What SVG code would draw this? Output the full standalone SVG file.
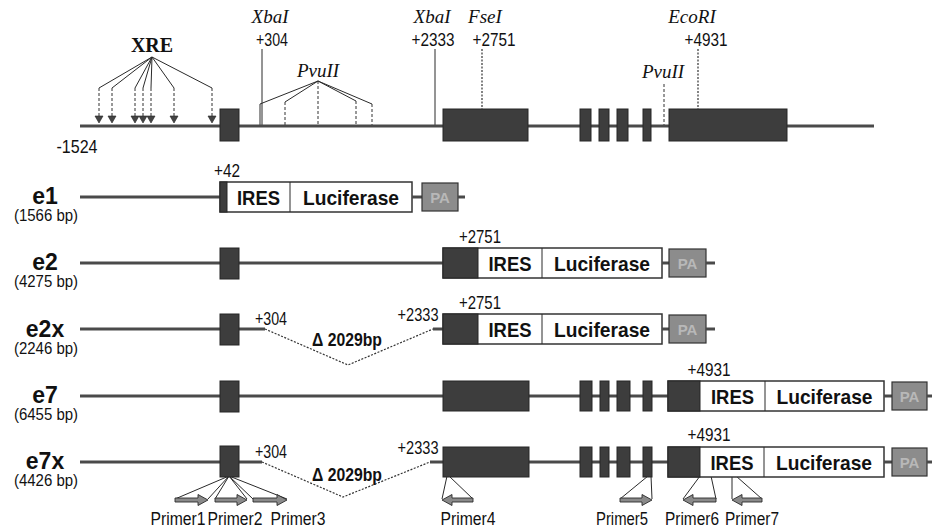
<svg xmlns="http://www.w3.org/2000/svg" width="932" height="531" viewBox="0 0 932 531">
<style>
.ln{stroke:#4a4a4a;stroke-width:3;fill:none}
.ex{fill:#3d3d3d;stroke:#262626;stroke-width:1}
.thin{stroke:#2a2a2a;stroke-width:1;fill:none}
.dash{stroke:#333;stroke-width:1;stroke-dasharray:3 2;fill:none}
.dot{stroke:#333;stroke-width:1.2;stroke-dasharray:2 1.5;fill:none}
.box{fill:#fff;stroke:#333;stroke-width:1.5}
.pa{fill:#8c8c8c;stroke:#333;stroke-width:1.2}
.patx{font-family:"Liberation Sans",Arial,sans-serif;font-weight:bold;font-size:15px;fill:#b8b8b8;text-anchor:middle}
.num{font-family:"Liberation Sans",Arial,sans-serif;font-size:18px;fill:#111;text-anchor:middle}
.lab{font-family:"Liberation Sans",Arial,sans-serif;font-weight:bold;font-size:21px;fill:#111;text-anchor:middle}
.row{font-family:"Liberation Sans",Arial,sans-serif;font-weight:bold;font-size:23px;fill:#111;text-anchor:middle}
.bp{font-family:"Liberation Sans",Arial,sans-serif;font-size:16px;fill:#111;text-anchor:middle}
.del{font-family:"Liberation Sans",Arial,sans-serif;font-weight:bold;font-size:18px;fill:#111;text-anchor:middle}
.enz{font-family:"Liberation Serif","Times New Roman",serif;font-style:italic;font-size:19px;fill:#111;text-anchor:middle}
.xre{font-family:"Liberation Serif","Times New Roman",serif;font-weight:bold;font-size:20px;fill:#111;text-anchor:middle}
.arr{fill:#8a8a8a;stroke:#2a2a2a;stroke-width:0.9}
.tri{fill:#444;stroke:#222;stroke-width:0.6}
.pr{font-family:"Liberation Sans",Arial,sans-serif;font-size:18px;fill:#111;text-anchor:middle}
</style>

<g id="connectors">
  <path class="thin" d="M152,57 L99,88 M152,57 L112,88 M152,57 L135,88 M152,57 L143,88 M152,57 L151,88 M152,57 L174,88 M152,57 L212,88"/>
  <path class="dash" d="M99,88 V116 M112,88 V116 M135,88 V116 M143,88 V116 M151,88 V116 M174,88 V116 M212,88 V116"/>
  <path class="thin" d="M318,81 L260,104 V126 M318,81 L285,102 M318,81 L356,101 M318,81 L372,104"/>
  <path class="dash" d="M285,102 V126 M318,81 V126 M356,101 V126 M372,104 V126"/>
  <path class="thin" d="M262,49 V126 M435,49 V126"/>
  <path class="dot" d="M482,49 V109 M698,49 V109"/>
  <path class="dash" d="M664,84 V126"/>
  <path class="dot" d="M265,329 L348,365 L433,329"/>
  <path class="dot" d="M262,462 L343,497 L430,462"/>
  <path class="thin" d="M229,476 L175,499 M229,476 L208,499 M229,476 L215,499 M229,476 L247,499 M229,476 L253,499 M229,476 L287,499"/>
  <path class="thin" d="M447,476 L442,499 M449,476 L473,499"/>
  <path class="thin" d="M648,476 L620,499 M651,476 L652,499"/>
  <path class="thin" d="M700,476 L683,499 M711,476 L716,499"/>
  <path class="thin" d="M732,476 L732,499 M736,476 L762,499"/>
</g>

<g id="genomic">
  <line class="ln" x1="80" y1="126" x2="874" y2="126"/>
  <rect class="ex" x="220" y="109" width="19" height="32"/>
  <rect class="ex" x="443" y="109" width="85" height="32"/>
  <rect class="ex" x="580" y="109" width="11" height="32"/>
  <rect class="ex" x="599" y="109" width="10" height="32"/>
  <rect class="ex" x="617" y="109" width="11" height="32"/>
  <rect class="ex" x="643" y="109" width="8" height="32"/>
  <rect class="ex" x="669" y="109" width="118" height="32"/>
  <g class="tri">
    <polygon points="95,116 103,116 99,123"/>
    <polygon points="108,116 116,116 112,123"/>
    <polygon points="131,116 139,116 135,123"/>
    <polygon points="139,116 147,116 143,123"/>
    <polygon points="147,116 155,116 151,123"/>
    <polygon points="170,116 178,116 174,123"/>
    <polygon points="208,116 216,116 212,123"/>
  </g>
  <text class="xre" x="152" y="52">XRE</text>
  <text class="enz" x="270" y="23">XbaI</text>
  <text class="num" x="272" y="46" textLength="32" lengthAdjust="spacingAndGlyphs">+304</text>
  <text class="enz" x="318" y="77">PvuII</text>
  <text class="enz" x="432" y="23">XbaI</text>
  <text class="num" x="433" y="46" textLength="43" lengthAdjust="spacingAndGlyphs">+2333</text>
  <text class="enz" x="485" y="23">FseI</text>
  <text class="num" x="494" y="46" textLength="43" lengthAdjust="spacingAndGlyphs">+2751</text>
  <text class="enz" x="692" y="23">EcoRI</text>
  <text class="num" x="706" y="46" textLength="43" lengthAdjust="spacingAndGlyphs">+4931</text>
  <text class="enz" x="663" y="78">PvuII</text>
  <text class="num" x="77" y="153" textLength="41" lengthAdjust="spacingAndGlyphs">-1524</text>
</g>

<g id="e1">
  <line class="ln" x1="80" y1="197" x2="220" y2="197"/>
  <rect class="box" x="220" y="182" width="192" height="30"/>
  <rect class="ex" x="220" y="182" width="7" height="30"/>
  <line class="thin" x1="290" y1="182" x2="290" y2="212" stroke-width="1.5"/>
  <text class="lab" x="258.5" y="205" textLength="43" lengthAdjust="spacingAndGlyphs">IRES</text>
  <text class="lab" x="351" y="205" textLength="96" lengthAdjust="spacingAndGlyphs">Luciferase</text>
  <line class="ln" x1="412" y1="197" x2="422" y2="197"/>
  <rect class="pa" x="422" y="183" width="36" height="28"/>
  <text class="patx" x="440" y="203">PA</text>
  <line class="ln" x1="458" y1="197" x2="465" y2="197"/>
  <text class="num" x="227" y="177" textLength="26" lengthAdjust="spacingAndGlyphs">+42</text>
  <text class="row" x="45" y="204">e1</text>
  <text class="bp" x="46" y="221" textLength="64" lengthAdjust="spacingAndGlyphs">(1566 bp)</text>
</g>

<g id="e2">
  <line class="ln" x1="80" y1="263" x2="443" y2="263"/>
  <rect class="ex" x="220" y="248" width="19" height="31"/>
  <rect class="box" x="443" y="248" width="219" height="30"/>
  <rect class="ex" x="443" y="248" width="35" height="30"/>
  <line class="thin" x1="542" y1="248" x2="542" y2="278" stroke-width="1.5"/>
  <text class="lab" x="510" y="271" textLength="43" lengthAdjust="spacingAndGlyphs">IRES</text>
  <text class="lab" x="602" y="271" textLength="96" lengthAdjust="spacingAndGlyphs">Luciferase</text>
  <line class="ln" x1="662" y1="263" x2="669" y2="263"/>
  <rect class="pa" x="669" y="249" width="37" height="28"/>
  <text class="patx" x="687.5" y="269">PA</text>
  <line class="ln" x1="706" y1="263" x2="715" y2="263"/>
  <text class="num" x="480" y="243" textLength="42" lengthAdjust="spacingAndGlyphs">+2751</text>
  <text class="row" x="45" y="270">e2</text>
  <text class="bp" x="46" y="287" textLength="64" lengthAdjust="spacingAndGlyphs">(4275 bp)</text>
</g>

<g id="e2x">
  <line class="ln" x1="80" y1="329" x2="265" y2="329"/>
  <rect class="ex" x="220" y="314" width="19" height="31"/>
  <line class="ln" x1="433" y1="329" x2="443" y2="329"/>
  <rect class="box" x="443" y="314" width="219" height="30"/>
  <rect class="ex" x="443" y="314" width="35" height="30"/>
  <line class="thin" x1="542" y1="314" x2="542" y2="344" stroke-width="1.5"/>
  <text class="lab" x="510" y="337" textLength="43" lengthAdjust="spacingAndGlyphs">IRES</text>
  <text class="lab" x="602" y="337" textLength="96" lengthAdjust="spacingAndGlyphs">Luciferase</text>
  <line class="ln" x1="662" y1="329" x2="669" y2="329"/>
  <rect class="pa" x="669" y="315" width="37" height="28"/>
  <text class="patx" x="687.5" y="335">PA</text>
  <line class="ln" x1="706" y1="329" x2="715" y2="329"/>
  <text class="num" x="271" y="325" textLength="32" lengthAdjust="spacingAndGlyphs">+304</text>
  <text class="num" x="418" y="321" textLength="41" lengthAdjust="spacingAndGlyphs">+2333</text>
  <text class="del" x="347" y="346" textLength="70" lengthAdjust="spacingAndGlyphs">Δ 2029bp</text>
  <text class="num" x="480" y="309" textLength="42" lengthAdjust="spacingAndGlyphs">+2751</text>
  <text class="row" x="45" y="337">e2x</text>
  <text class="bp" x="46" y="354" textLength="64" lengthAdjust="spacingAndGlyphs">(2246 bp)</text>
</g>

<g id="e7">
  <line class="ln" x1="80" y1="396" x2="668" y2="396"/>
  <rect class="ex" x="220" y="381" width="19" height="31"/>
  <rect class="ex" x="443" y="381" width="86" height="30"/>
  <rect class="ex" x="580" y="381" width="12" height="30"/>
  <rect class="ex" x="600" y="381" width="9" height="30"/>
  <rect class="ex" x="617" y="381" width="13" height="30"/>
  <rect class="ex" x="643" y="381" width="9" height="30"/>
  <rect class="box" x="668" y="381" width="216" height="30"/>
  <rect class="ex" x="668" y="381" width="32" height="30"/>
  <line class="thin" x1="765" y1="381" x2="765" y2="411" stroke-width="1.5"/>
  <text class="lab" x="732.5" y="404" textLength="43" lengthAdjust="spacingAndGlyphs">IRES</text>
  <text class="lab" x="824.5" y="404" textLength="96" lengthAdjust="spacingAndGlyphs">Luciferase</text>
  <line class="ln" x1="884" y1="396" x2="892" y2="396"/>
  <rect class="pa" x="892" y="382" width="35" height="28"/>
  <text class="patx" x="909.5" y="402">PA</text>
  <line class="ln" x1="927" y1="396" x2="932" y2="396"/>
  <text class="num" x="709" y="376" textLength="43" lengthAdjust="spacingAndGlyphs">+4931</text>
  <text class="row" x="45" y="403">e7</text>
  <text class="bp" x="46" y="420" textLength="64" lengthAdjust="spacingAndGlyphs">(6455 bp)</text>
</g>

<g id="e7x">
  <line class="ln" x1="80" y1="462" x2="262" y2="462"/>
  <line class="ln" x1="430" y1="462" x2="668" y2="462"/>
  <rect class="ex" x="220" y="446" width="19" height="31"/>
  <rect class="ex" x="443" y="447" width="86" height="30"/>
  <rect class="ex" x="580" y="447" width="12" height="30"/>
  <rect class="ex" x="600" y="447" width="9" height="30"/>
  <rect class="ex" x="617" y="447" width="13" height="30"/>
  <rect class="ex" x="643" y="447" width="9" height="30"/>
  <rect class="box" x="668" y="447" width="216" height="30"/>
  <rect class="ex" x="668" y="447" width="32" height="30"/>
  <line class="thin" x1="764" y1="447" x2="764" y2="477" stroke-width="1.5"/>
  <text class="lab" x="732" y="470" textLength="43" lengthAdjust="spacingAndGlyphs">IRES</text>
  <text class="lab" x="824" y="470" textLength="96" lengthAdjust="spacingAndGlyphs">Luciferase</text>
  <line class="ln" x1="884" y1="462" x2="892" y2="462"/>
  <rect class="pa" x="892" y="448" width="35" height="28"/>
  <text class="patx" x="909.5" y="468">PA</text>
  <line class="ln" x1="927" y1="462" x2="932" y2="462"/>
  <text class="num" x="271" y="458" textLength="32" lengthAdjust="spacingAndGlyphs">+304</text>
  <text class="num" x="418" y="454" textLength="41" lengthAdjust="spacingAndGlyphs">+2333</text>
  <text class="del" x="347" y="481" textLength="70" lengthAdjust="spacingAndGlyphs">Δ 2029bp</text>
  <text class="num" x="709" y="441" textLength="43" lengthAdjust="spacingAndGlyphs">+4931</text>
  <text class="row" x="45" y="469">e7x</text>
  <text class="bp" x="46" y="486" textLength="64" lengthAdjust="spacingAndGlyphs">(4426 bp)</text>
</g>

<g id="primers">
  <polygon class="arr" points="175,498 198,498 198,494.5 208,500 198,505.5 198,502 175,502"/>
  <polygon class="arr" points="215,498 237,498 237,494.5 247,500 237,505.5 237,502 215,502"/>
  <polygon class="arr" points="253,498 277,498 277,494.5 287,500 277,505.5 277,502 253,502"/>
  <polygon class="arr" points="473,498 452,498 452,494.5 442,500 452,505.5 452,502 473,502"/>
  <polygon class="arr" points="620,498 642,498 642,494.5 652,500 642,505.5 642,502 620,502"/>
  <polygon class="arr" points="716,498 693,498 693,494.5 683,500 693,505.5 693,502 716,502"/>
  <polygon class="arr" points="762,498 742,498 742,494.5 732,500 742,505.5 742,502 762,502"/>
  <text class="pr" x="178" y="525" textLength="55" lengthAdjust="spacingAndGlyphs">Primer1</text>
  <text class="pr" x="235" y="525" textLength="55" lengthAdjust="spacingAndGlyphs">Primer2</text>
  <text class="pr" x="298" y="525" textLength="55" lengthAdjust="spacingAndGlyphs">Primer3</text>
  <text class="pr" x="468" y="525" textLength="55" lengthAdjust="spacingAndGlyphs">Primer4</text>
  <text class="pr" x="622" y="525" textLength="52" lengthAdjust="spacingAndGlyphs">Primer5</text>
  <text class="pr" x="692" y="525" textLength="54" lengthAdjust="spacingAndGlyphs">Primer6</text>
  <text class="pr" x="752" y="525" textLength="54" lengthAdjust="spacingAndGlyphs">Primer7</text>
</g>
</svg>
